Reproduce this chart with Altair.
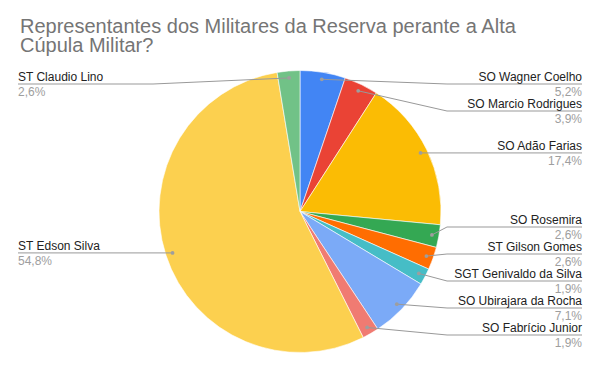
import altair as alt
import pandas as pd
import numpy as np

# ---- data ----
names = ["SO Wagner Coelho", "SO Marcio Rodrigues", "SO Adão Farias", "SO Rosemira",
         "ST Gilson Gomes", "SGT Genivaldo da Silva", "SO Ubirajara da Rocha",
         "SO Fabrício Junior", "ST Edson Silva", "ST Claudio Lino"]
values = [5.2, 3.9, 17.4, 2.6, 2.6, 1.9, 7.1, 1.9, 54.8, 2.6]
colors = ["#4285F4", "#EA4335", "#FBBC04", "#34A853", "#FF6D01", "#46BDC6",
          "#7BAAF7", "#F07B72", "#FCD04F", "#71C287"]
title_lines = ["Representantes dos Militares da Reserva perante a Alta", "Cúpula Militar?"]

# ---- layout constants (page pixel coordinates) ----
CX, CY, R = 300, 211.5, 141
DOT_R = 134
ELBOW = 147
LEFT_X, RIGHT_X = 18, 582
TOP_Y, BOTTOM_Y, GAP = 84, 335, 27
OFF = 8          # page margin
W, H = 584, 355  # chart size (fits inside the window with margins)
FONT = "Liberation Sans"

df = pd.DataFrame({"name": names, "value": values})
df["idx"] = np.arange(len(df))
total = df["value"].sum()
cum = df["value"].cumsum() - df["value"]
mid = (cum + df["value"] / 2) / total * 2 * np.pi
df["cx"] = CX
df["cy"] = CY
df["dot_x"] = CX + DOT_R * np.sin(mid)
df["dot_y"] = CY - DOT_R * np.cos(mid)
df["side"] = np.where(np.sin(mid) > 0, "right", "left")
df["elbow_x"] = np.where(df["side"] == "right", CX + ELBOW, CX - ELBOW)
df["end_x"] = np.where(df["side"] == "right", RIGHT_X, LEFT_X)
df["pct"] = [f"{v:.1f}%".replace(".", ",") for v in values]

# simple label collision avoidance per side
df["label_y"] = df["dot_y"]
for side in ["left", "right"]:
    sub = df[df["side"] == side].sort_values("dot_y")
    ys = []
    prev = None
    for y in sub["dot_y"]:
        y = max(y, TOP_Y)
        if prev is not None:
            y = max(y, prev + GAP)
        ys.append(y)
        prev = y
    for i in range(len(ys) - 1, -1, -1):
        lim = BOTTOM_Y if i == len(ys) - 1 else ys[i + 1] - GAP
        ys[i] = min(ys[i], lim)
    df.loc[sub.index, "label_y"] = ys
df["name_y"] = df["label_y"] - 3.3
df["pct_y"] = df["label_y"] + 11.7

xs = alt.Scale(domain=[OFF, OFF + W], nice=False, zero=False)
ys_ = alt.Scale(domain=[OFF, OFF + H], nice=False, zero=False, reverse=True)

base = alt.Chart(df)

arcs = base.mark_arc(outerRadius=R, stroke="white", strokeWidth=0.6).encode(
    theta=alt.Theta("value:Q", stack=True),
    order=alt.Order("idx:Q", sort="ascending"),
    color=alt.Color("name:N", scale=alt.Scale(domain=names, range=colors), legend=None),
    x=alt.X("cx:Q", scale=xs, axis=None),
    y=alt.Y("cy:Q", scale=ys_, axis=None),
)

lead1 = base.mark_rule(color="#999999", strokeWidth=1).encode(
    x=alt.X("dot_x:Q", scale=xs, axis=None), y=alt.Y("dot_y:Q", scale=ys_, axis=None),
    x2="elbow_x:Q", y2="label_y:Q",
)
lead2 = base.mark_rule(color="#999999", strokeWidth=1).encode(
    x=alt.X("elbow_x:Q", scale=xs, axis=None), y=alt.Y("label_y:Q", scale=ys_, axis=None),
    x2="end_x:Q", y2="label_y:Q",
)
dots = base.mark_circle(size=14, color="#9e9e9e", opacity=1).encode(
    x=alt.X("dot_x:Q", scale=xs, axis=None), y=alt.Y("dot_y:Q", scale=ys_, axis=None),
)

def labels(side, align):
    b = base.transform_filter(alt.datum.side == side)
    n = b.mark_text(align=align, baseline="alphabetic", fontSize=12, font=FONT,
                    color="#222222").encode(
        x=alt.X("end_x:Q", scale=xs, axis=None), y=alt.Y("name_y:Q", scale=ys_, axis=None),
        text="name:N")
    p = b.mark_text(align=align, baseline="alphabetic", fontSize=12, font=FONT,
                    color="#9e9e9e").encode(
        x=alt.X("end_x:Q", scale=xs, axis=None), y=alt.Y("pct_y:Q", scale=ys_, axis=None),
        text="pct:N")
    return n + p

title = alt.Chart(pd.DataFrame({"t": ["\n".join(title_lines)]})).mark_text(
    align="left", baseline="alphabetic", fontSize=20, font=FONT, color="#757575",
    lineBreak="\n", lineHeight=19,
).encode(x=alt.value(20 - OFF), y=alt.value(33 - OFF), text="t:N")

chart = alt.layer(arcs, lead1, lead2, dots, labels("right", "right"), labels("left", "left"), title).properties(
    width=W, height=H, autosize=alt.AutoSizeParams(type="none"), padding=0, background="white"
).configure_view(stroke=None)

chart.save("out.html", embed_options={"renderer": "svg", "actions": False})
